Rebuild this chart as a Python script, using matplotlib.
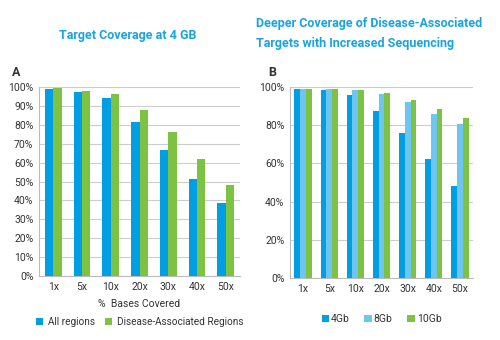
import matplotlib
matplotlib.use("Agg")
import matplotlib.pyplot as plt
import numpy as np
from matplotlib import font_manager

names = {f.name for f in font_manager.fontManager.ttflist}
fam = [n for n in ["Liberation Sans Narrow", "DejaVu Sans Condensed", "Roboto", "DejaVu Sans"] if n in names]
plt.rcParams['font.family'] = fam

categories = ["1x", "5x", "10x", "20x", "30x", "40x", "50x"]
a_all = [98.7, 97.3, 94.0, 81.6, 66.6, 51.6, 38.4]
a_disease = [99.6, 98.0, 96.1, 88.0, 76.0, 62.0, 48.0]
b_4gb = [99.2, 98.4, 95.6, 87.6, 75.7, 62.1, 48.4]
b_8gb = [99.2, 99.2, 98.3, 96.2, 92.0, 86.1, 80.7]
b_10gb = [99.2, 99.2, 98.3, 96.8, 93.4, 88.6, 83.8]
a_yticks = list(range(0, 101, 10))
b_yticks = list(range(0, 101, 20))

c_dark = "#009FE3"
c_light = "#6EC6F0"
c_green = "#7DC242"
c_title = "#1AA3E3"
c_text = "#333333"
c_grid = "#CCCCCC"

fig = plt.figure(figsize=(5, 3.4), dpi=100)

x = np.arange(len(categories))

# Panel A
axA = fig.add_axes([0.078, 0.188, 0.402, 0.556])
w = 0.29
axA.bar(x - w/2, a_all, w, color=c_dark, label="All regions", zorder=3)
axA.bar(x + w/2, a_disease, w, color=c_green, label="Disease-Associated Regions", zorder=3)
axA.set_xlim(-0.5, 6.5)
axA.set_ylim(0, 100)
axA.set_yticks(a_yticks)
axA.set_yticklabels([f"{v}%" for v in a_yticks])
axA.set_xticks(x)
axA.set_xticklabels(categories)
axA.grid(axis="y", color=c_grid, lw=0.8, zorder=0)
for s in ["top", "right"]:
    axA.spines[s].set_visible(False)
for s in ["left", "bottom"]:
    axA.spines[s].set_color("#BBBBBB")
axA.tick_params(length=0, labelsize=7.5, colors=c_text, pad=4)
axA.set_xlabel("%  Bases Covered", fontsize=7.5, color=c_text, labelpad=5)
axA.legend(loc="upper center", bbox_to_anchor=(0.5, -0.17), ncol=2, frameon=False,
           fontsize=7.2, handlelength=0.7, handleheight=0.7, handletextpad=0.5,
           columnspacing=1.0, labelcolor=c_text)

# Panel B
axB = fig.add_axes([0.58, 0.182, 0.366, 0.562])
wb = 0.22
axB.bar(x - wb, b_4gb, wb, color=c_dark, label="4Gb", zorder=3)
axB.bar(x, b_8gb, wb, color=c_light, label="8Gb", zorder=3)
axB.bar(x + wb, b_10gb, wb, color=c_green, label="10Gb", zorder=3)
axB.set_xlim(-0.5, 6.5)
axB.set_ylim(0, 100)
axB.set_yticks(b_yticks)
axB.set_yticklabels([f"{v}%" for v in b_yticks])
axB.set_xticks(x)
axB.set_xticklabels(categories)
axB.grid(axis="y", color=c_grid, lw=0.8, zorder=0)
for s in ["top", "right"]:
    axB.spines[s].set_visible(False)
for s in ["left", "bottom"]:
    axB.spines[s].set_color("#BBBBBB")
axB.tick_params(length=0, labelsize=7.5, colors=c_text, pad=4)
axB.legend(loc="upper center", bbox_to_anchor=(0.5, -0.14), ncol=3, frameon=False,
           fontsize=7.5, handlelength=0.7, handleheight=0.7, handletextpad=0.2,
           columnspacing=1.4, labelcolor=c_text)

# Labels and titles
fig.text(12/500, 1 - 72/340, "A", fontsize=9, fontweight="bold", color=c_text, va="center")
fig.text(268/500, 1 - 72/340, "B", fontsize=9, fontweight="bold", color=c_text, va="center")
fig.text(128/500, 1 - 36/340, "Target Coverage at 4 GB", fontsize=9, fontweight="bold",
         color=c_title, ha="center", va="center")
fig.text(256/500, 1 - 23/340, "Deeper Coverage of Disease-Associated", fontsize=9,
         fontweight="bold", color=c_title, ha="left", va="center")
fig.text(256/500, 1 - 43/340, "Targets with Increased Sequencing", fontsize=9,
         fontweight="bold", color=c_title, ha="left", va="center")

fig.savefig("out.png", dpi=100)
